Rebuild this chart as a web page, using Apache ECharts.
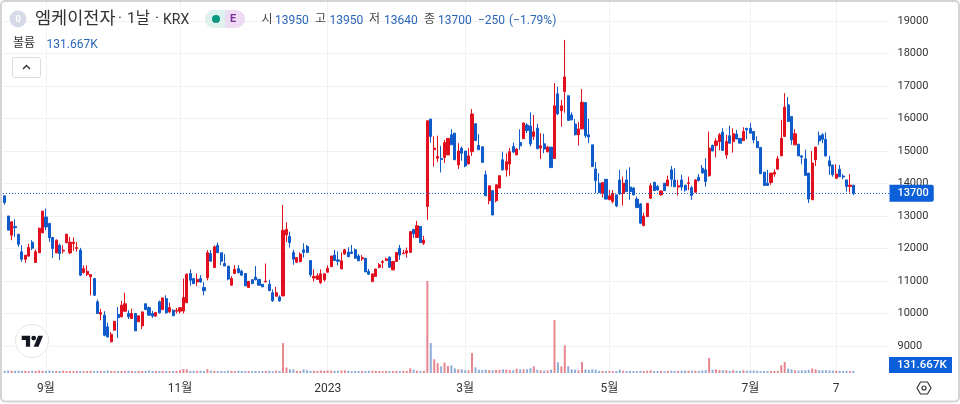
<!DOCTYPE html>
<html>
<head>
<meta charset="utf-8">
<style>
  html, body { margin: 0; padding: 0; background: #fff; }
  #chart { width: 960px; height: 404px; }
</style>
<script src="https://cdn.jsdelivr.net/npm/echarts@6/dist/echarts.min.js"></script>
</head>
<body>
<div id="chart"></div>
<script>
let opens = [
  13620,13000,12410,12680,12440,11900,11670,11765,12195,11570,
  11870,12480,12970,12770,12340,11865,12100,11920,12175,11865,
  12150,12000,11950,11260,11200,11130,11075,10360,9980,9950,
  9590,9130,9485,9970,9900,10070,10000,9850,10000,9745,
  9620,10300,10180,10000,9920,10360,10120,10460,10050,10100,
  10070,10070,10080,10330,11230,11075,10970,11075,10800,11100,
  11845,11415,12100,11870,11540,11460,10870,11230,11380,11300,
  11230,10800,11040,11120,11050,10900,10970,10900,10640,10530,
  10510,10540,12420,12370,11875,11580,11600,11960,12060,11630,
  11090,11050,10950,11040,11270,11440,11800,11650,11370,11830,
  11890,11890,11960,11770,11680,11700,11290,10980,11140,11420,
  11570,11630,11730,11340,11600,12010,11840,11860,11880,12590,
  12340,12680,12160,13290,15980,15040,14780,14770,14800,14880,
  15500,15550,14570,15090,15000,14600,14980,15840,15170,15130,
  14270,13470,13780,13470,13860,14730,14420,14600,15140,14880,
  15260,15380,15800,15770,15450,15700,15090,15220,14980,15120,
  14770,16760,16240,16830,16700,16110,15830,15500,15680,16490,
  15500,15190,14450,14010,13700,14130,13500,13450,13650,14110,
  13700,14110,13890,13860,13520,13370,12710,12980,13550,14040,
  13910,13650,14010,13930,14420,14110,13890,14110,13950,14000,
  13870,13730,14190,14470,14420,14240,15170,15170,15290,15580,
  14880,15470,15290,15520,15390,15320,15700,15700,15600,15290,
  15110,14350,14010,14030,14290,14440,14850,15450,16420,16060,
  15190,15210,14850,14760,14320,13500,14730,15470,15500,15360,
  14700,14570,14160,14440,14230,14110,13910,13950
];
let closes = [
  13415,12565,12820,12640,12130,11670,11795,12030,12010,11900,
  12620,13150,12665,12330,12000,12255,11845,11950,12440,12195,
  12195,12030,11180,11380,11300,11200,10560,10000,10030,9330,
  9280,9360,9760,9870,10255,10300,9900,10000,9465,9930,
  10050,10120,9950,9920,10030,10020,10480,10020,10180,9930,
  10100,10180,10490,11210,11025,10920,11050,10970,10700,11870,
  11610,12050,11870,11610,11460,11060,11075,11360,11260,11180,
  10850,10990,10920,11040,10870,10820,10990,10700,10390,10640,
  10390,12560,12590,12180,11670,11720,11830,11880,11880,11190,
  11140,11160,11220,11220,11390,11770,11630,11610,11620,11960,
  11750,11850,11700,11620,11720,11280,11210,11220,11370,11500,
  11600,11680,11420,11600,11880,11800,11860,11930,12520,12450,
  12700,12180,12260,15930,15450,15090,14830,14740,15260,15390,
  15190,14730,15000,14930,14540,14850,16140,15320,15040,14650,
  13620,13930,13030,13960,14240,14420,14670,14980,14970,15060,
  15160,15860,15630,15220,15590,15070,15160,15060,15120,14490,
  16390,16140,16390,17280,15940,15960,15500,15680,16500,15470,
  15430,14520,14090,13720,14030,13520,13620,13700,13310,13680,
  14010,13750,13750,13650,13260,12780,13000,13390,13930,13780,
  13800,13770,13780,14110,14130,13900,13930,13890,13800,14020,
  13630,14110,14090,14320,14060,15090,15000,15310,15500,15020,
  15290,15240,15530,15370,15240,15600,15650,15550,15340,15100,
  14300,13940,13940,14320,14350,14760,15390,16350,15910,15340,
  15530,14850,14810,14250,13520,14630,15120,15310,15360,14850,
  14540,14270,14290,14210,14200,13910,13950,13700
];
let highs = [
  13620,13000,12830,12900,12440,12100,11795,12150,12255,11970,
  12650,13150,13230,12790,12360,12280,12150,12100,12440,12360,
  12340,12200,12020,11480,11480,11200,11075,10430,10150,10070,
  9720,9430,9760,10200,10390,10640,10100,10150,10000,9930,
  10060,10300,10220,10080,10050,10400,10480,10560,10330,10130,
  10170,10180,11075,11230,11360,11100,11230,11180,10970,11950,
  11950,12100,12185,11870,11825,11460,11150,11490,11490,11350,
  11230,11000,11040,11460,11050,10900,11540,11040,10740,10820,
  10560,13340,12810,12520,11960,11720,11880,12160,12110,11630,
  11360,11240,11360,11240,11480,11770,11960,11910,11880,11990,
  12040,12110,12000,11830,11800,11700,11370,11220,11370,11550,
  11650,11720,11760,11600,11880,12110,11960,12030,12520,12590,
  12850,12680,12390,15930,15990,15450,15470,15160,15340,15400,
  15670,15550,15240,15140,15000,15090,16290,15840,15520,15130,
  14400,13930,13780,13960,14240,14980,14930,15090,15260,15090,
  15670,15880,15860,16190,16110,15840,15550,15530,15160,15120,
  17090,16980,16570,18420,16710,16190,15980,15890,16910,16500,
  15990,15190,14660,14320,14030,14130,13800,13800,13650,14420,
  14210,14420,14500,13890,13600,13400,13100,13390,14010,14040,
  13960,13780,14010,14240,14540,14470,14110,14270,13950,14210,
  13930,14140,14290,14570,14780,15600,15200,15390,15550,15700,
  15500,15780,15700,15650,15390,15730,15700,15860,15600,15450,
  15110,14350,14420,14320,14440,14850,15960,16780,16660,16060,
  15670,15210,14880,15040,14320,15000,15120,15600,15550,15570,
  14850,14570,14590,14570,14290,14110,14290,13950
];
let lows = [
  13350,12565,12255,12360,12050,11590,11560,11765,11950,11560,
  11870,12480,12560,12200,11710,11865,11640,11845,12175,11825,
  11930,11900,11150,11230,11150,10560,10560,10000,9790,9300,
  9260,9110,9485,9250,9880,10050,9830,9850,9465,9745,
  9520,10120,9930,9865,9900,10000,10120,10000,10020,9930,
  10000,10000,10000,10330,10850,10900,10840,10950,10560,11020,
  11610,11400,11870,11490,11460,11020,10870,11230,11230,11170,
  10850,10800,10900,11020,10870,10820,10970,10700,10360,10530,
  10360,10540,12200,12030,11500,11550,11570,11720,11860,11120,
  10980,11030,10910,10980,11270,11440,11620,11480,11370,11810,
  11730,11830,11690,11620,11620,11280,11190,10980,11140,11390,
  11390,11630,11420,11340,11600,11650,11830,11720,11880,12320,
  12320,12180,12110,12880,15260,14520,14650,14340,14630,14880,
  15190,14730,14450,14700,14500,14600,14850,15320,15040,14650,
  13620,13360,13030,13420,13860,14400,14210,14240,14930,14880,
  15040,15380,15550,15140,15340,15070,14750,14930,14950,14490,
  14770,16110,15750,16180,15940,15940,15480,15170,15680,15400,
  15240,14520,13700,13700,13570,13520,13500,13390,13270,13650,
  13320,13730,13500,13630,13240,12750,12680,12980,13520,13770,
  13780,13630,13770,13930,13900,13890,13630,13780,13750,13800,
  13500,13730,14060,14320,13900,14210,15000,14800,15020,15000,
  14760,15220,14950,15360,15240,15320,15360,15530,15240,15100,
  14300,13940,13940,13960,14210,14440,14850,15450,15900,15190,
  15190,14850,14590,14250,13400,13500,14540,15190,15240,14830,
  14270,14210,14160,14210,14130,13750,13720,13640
];
// 거래량 (K)
let volumes = [
  130,150,140,130,150,130,130,110,140,130,
  150,140,130,150,130,130,120,140,120,130,
  110,120,130,110,120,140,120,130,120,130,
  150,120,110,120,130,110,140,120,110,130,
  120,130,150,120,130,120,130,120,110,130,
  120,170,230,220,130,140,130,140,130,230,
  140,130,130,120,110,140,130,110,140,120,
  110,120,110,130,110,120,130,130,110,140,
  130,1800,330,220,220,130,120,220,170,130,
  140,130,150,140,150,150,130,140,160,160,
  140,120,130,120,130,120,130,140,130,120,
  110,130,120,110,130,120,140,130,280,200,
  140,130,130,5520,1800,820,600,400,620,420,
  460,280,220,220,160,160,1200,340,200,170,
  200,170,170,180,190,220,210,170,160,260,
  220,220,220,280,400,200,160,140,160,200,
  3180,640,400,1660,400,220,200,160,660,220,
  180,220,200,130,120,110,130,110,120,200,
  140,120,130,120,110,130,120,140,160,130,
  120,130,110,130,140,120,130,140,150,140,
  150,140,130,160,170,900,200,220,170,170,
  170,130,170,130,140,170,140,150,150,130,
  110,120,110,130,120,130,460,660,260,220,
  160,150,160,170,190,270,220,160,170,170,
  160,150,140,130,120,130,110,131.667
];
let tickLabels = ["9월", "11월", "2023", "3월", "5월", "7월", "7"];
let tickIndexes = [12, 51, 94, 134, 176, 217, 242];

const slotCount = 258; // 오른쪽 빈 공간 포함
const FONT = 'Roboto, "Noto Sans CJK KR", sans-serif';
const UP = "#e2101e";
const DOWN = "#0f5bc9";
const TAG = "#0b5fd9";
const TEXT_BLUE = "#2a66b8";
const GRID_COLOR = "#f1f1f1";

let categories = [];
for (let i = 0; i < slotCount; i++) {
  let t = tickIndexes.indexOf(i);
  categories.push(t >= 0 ? tickLabels[t] : "");
}

let candles = opens.map((o, i) => [o, closes[i], lows[i], highs[i]]);
let volumeBars = volumes.map((v, i) => ({
  value: v,
  itemStyle: { color: closes[i] >= opens[i] ? "#e8868f" : "#8dadd9" },
}));
let isTick = (i) => tickIndexes.indexOf(i) >= 0;

function txt(x, y, text, fill, size, weight) {
  return {
    type: "text",
    x: x,
    y: y,
    silent: true,
    style: {
      text: text,
      fill: fill,
      font: (weight || "normal") + " " + size + "px " + FONT,
      verticalAlign: "middle",
    },
  };
}

let graphics = [
  // 바깥 테두리
  { type: "rect", silent: true, shape: { x: 1, y: 1, width: 958, height: 400.5, r: 4 }, style: { fill: "none", stroke: "#d4d4d4", lineWidth: 2 } },
  // 헤더
  { type: "circle", silent: true, shape: { cx: 18, cy: 19, r: 8.5 }, style: { fill: "#d6d9e8" } },
  txt(15.5, 19.5, "0", "#ffffff", 9, "bold"),
  txt(35, 19.5, "엠케이전자", "#333333", 17.5),
  txt(118, 19.5, "·", "#333333", 15),
  txt(127, 19.5, "1날", "#333333", 15.5),
  txt(155, 19.5, "·", "#333333", 15),
  txt(163, 20, "KRX", "#333333", 14),
  { type: "rect", silent: true, shape: { x: 205, y: 10, width: 40, height: 18, r: 9 }, style: { fill: "#eddcf3" } },
  { type: "rect", silent: true, shape: { x: 205, y: 10, width: 20, height: 18, r: [9, 0, 0, 9] }, style: { fill: "#dff2ee" } },
  { type: "circle", silent: true, shape: { cx: 216, cy: 19, r: 4 }, style: { fill: "#089981" } },
  txt(230, 19.5, "E", "#7b2f9a", 11, "bold"),
  txt(261.5, 20, "시", "#444444", 12),
  txt(275, 20.5, "13950", TEXT_BLUE, 12),
  txt(315, 20, "고", "#444444", 12),
  txt(329.5, 20.5, "13950", TEXT_BLUE, 12),
  txt(369, 20, "저", "#444444", 12),
  txt(384, 20.5, "13640", TEXT_BLUE, 12),
  txt(424, 20, "종", "#444444", 12),
  txt(438, 20.5, "13700", TEXT_BLUE, 12),
  txt(478, 20.5, "−250", TEXT_BLUE, 12),
  txt(509, 20.5, "(−1.79%)", TEXT_BLUE, 12),
  txt(13, 44, "볼륨", "#333333", 12),
  txt(46.5, 44.5, "131.667K", TEXT_BLUE, 12),
  // 접기 버튼
  { type: "rect", silent: true, shape: { x: 12.5, y: 57.5, width: 28, height: 20, r: 2 }, style: { fill: "#fff", stroke: "#dcdcdc", lineWidth: 1 } },
  { type: "polyline", silent: true, shape: { points: [[23, 69], [26.5, 65.5], [30, 69]] }, style: { fill: "none", stroke: "#333", lineWidth: 1.4 } },
  // 로고
  { type: "circle", silent: true, shape: { cx: 32, cy: 341, r: 16.5 }, style: { fill: "#fff", stroke: "#e4e4e4", lineWidth: 1 } },
  { type: "polygon", silent: true, shape: { points: [[30.1, 346.7], [25.9, 346.7], [25.9, 340], [21.7, 340], [21.7, 335.7], [30.1, 335.7]] }, style: { fill: "#131722" } },
  { type: "polygon", silent: true, shape: { points: [[38.5, 346.7], [33.7, 346.7], [38.2, 335.7], [43, 335.7]] }, style: { fill: "#131722" } },
  { type: "circle", silent: true, shape: { cx: 33.7, cy: 338.1, r: 2.4 }, style: { fill: "#131722" } },
  // 볼륨 값 태그
  { type: "rect", silent: true, shape: { x: 889, y: 357, width: 63, height: 16 }, style: { fill: TAG } },
  txt(897, 365.5, "131.667K", "#ffffff", 11.5, 500),
  // 설정 아이콘
  { type: "polygon", silent: true, shape: { points: [[917, 388], [920.5, 382], [927.5, 382], [931, 388], [927.5, 394], [920.5, 394]] }, style: { fill: "none", stroke: "#333", lineWidth: 1.2 } },
  { type: "circle", silent: true, shape: { cx: 924, cy: 388, r: 2 }, style: { fill: "none", stroke: "#333", lineWidth: 1.2 } },
];
// 격자선이 글자 위로 올라오지 않게
graphics.forEach((g) => {
  g.z = 10;
});

let option = {
  animation: false,
  backgroundColor: "#fff",
  textStyle: { fontFamily: FONT },
  grid: [
    { left: 3, top: 2, width: 886.5, height: 376.5 },
    { left: 3, top: 2, width: 886.5, height: 371 },
  ],
  xAxis: [
    {
      type: "category",
      gridIndex: 0,
      data: categories,
      show: false,
    },
    {
      type: "category",
      gridIndex: 1,
      data: categories,
      axisLine: { show: false },
      axisTick: { show: false },
      axisLabel: {
        interval: (i) => isTick(i),
        color: "#333",
        fontSize: 12,
        margin: 10,
        fontFamily: FONT,
      },
      splitLine: {
        show: true,
        alignWithLabel: true,
        interval: (i) => isTick(i),
        lineStyle: { color: GRID_COLOR, width: 1 },
      },
    },
  ],
  yAxis: [
    {
      type: "value",
      gridIndex: 0,
      position: "right",
      min: 8000,
      max: 19585,
      interval: 1000,
      axisLine: { show: false },
      axisTick: { show: false },
      axisLabel: {
        color: "#333",
        fontSize: 11,
        margin: 8,
        padding: [4, 0, 0, 0],
        showMinLabel: false,
        showMaxLabel: false,
        fontFamily: FONT,
        formatter: (v) => String(v),
      },
      splitLine: {
        show: true,
        showMinLine: false,
        showMaxLine: false,
        lineStyle: { color: GRID_COLOR, width: 1 },
      },
    },
    {
      type: "value",
      gridIndex: 1,
      show: false,
      min: 0,
      max: 22260,
    },
  ],
  series: [
    {
      name: "볼륨",
      type: "bar",
      xAxisIndex: 1,
      yAxisIndex: 1,
      barWidth: 2,
      z: 1,
      data: volumeBars,
    },
    {
      name: "가격",
      type: "candlestick",
      xAxisIndex: 0,
      yAxisIndex: 0,
      barWidth: 2.6,
      z: 3,
      itemStyle: {
        color: UP,
        color0: DOWN,
        borderColor: UP,
        borderColor0: DOWN,
        borderWidth: 1,
      },
      data: candles,
      markLine: {
        silent: true,
        symbol: "none",
        animation: false,
        lineStyle: { color: TAG, type: [1, 2], width: 1 },
        label: {
          show: true,
          position: "end",
          distance: 0,
          formatter: "{c}",
          color: "#fff",
          fontSize: 11,
          fontWeight: 500,
          fontFamily: FONT,
          backgroundColor: TAG,
          padding: [3, 5, 3, 8],
          borderRadius: [0, 2, 2, 0],
        },
        data: [{ yAxis: closes[closes.length - 1] }],
      },
    },
  ],
  graphic: graphics,
};

let myChart = echarts.init(document.getElementById("chart"));
myChart.setOption(option, true);
</script>
</body>
</html>
